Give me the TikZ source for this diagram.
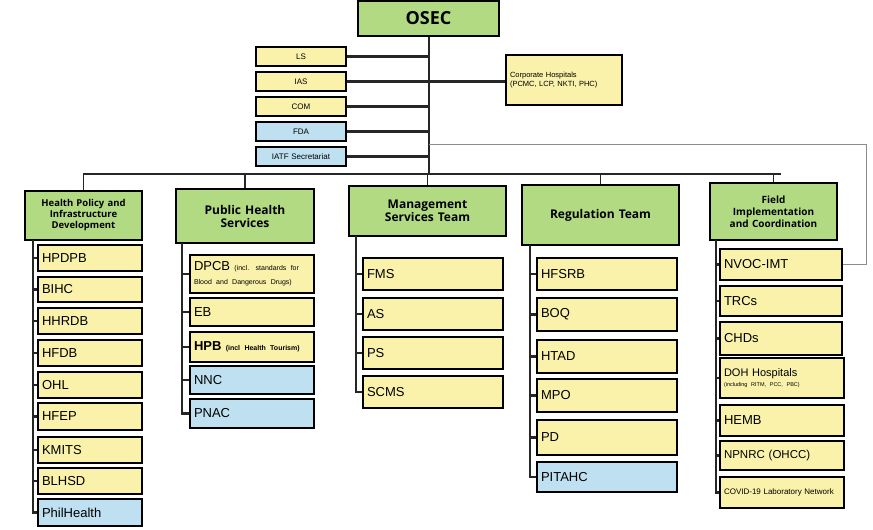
\documentclass[tikz,border=0pt]{standalone}
\usepackage{fontspec}
\setmainfont{Liberation Sans}
\newfontfamily\hdfont{Open Sans}
\definecolor{gfill}{RGB}{178,218,130}
\definecolor{yfill}{RGB}{250,242,170}
\definecolor{bfill}{RGB}{190,224,240}
\begin{document}
\begin{tikzpicture}[x=1pt,y=-1pt,
  box/.style={draw=black,line width=1.8pt,inner xsep=4pt,inner ysep=0pt,font=\fontsize{13}{14}\selectfont},
  yel/.style={box,fill=yfill,align=left},
  blu/.style={box,fill=bfill,align=left},
  grn/.style={box,fill=gfill,align=center,font=\hdfont\bfseries\fontsize{12}{13}\selectfont},
  sm/.style={box,align=center,font=\fontsize{8}{9.5}\selectfont},
  ln/.style={line width=2.2pt,black!85},
  gl/.style={line width=1pt,black!45}]
\useasboundingbox (0,0) rectangle (873,530);
\newcommand\bx[7]{\node[#6,minimum width={(#4-#2)*1pt},minimum height={(#5-#3)*1pt},text width={(#4-#2)*1pt-8pt}] (#1) at ({(#2+#4)/2},{(#3+#5)/2}) {#7};}
% top
\bx{osec}{358}{1}{499}{36}{grn,font=\hdfont\bfseries\fontsize{18}{20}\selectfont}{OSEC}
\bx{ls}{256}{47}{346}{66}{sm,fill=yfill}{LS}
\bx{ias}{256}{72}{346}{91}{sm,fill=yfill}{IAS}
\bx{com}{256}{97}{346}{116}{sm,fill=yfill}{COM}
\bx{fda}{256}{122}{346}{141}{sm,fill=bfill}{FDA}
\bx{iatf}{256}{147}{346}{166}{sm,fill=bfill}{IATF Secretariat}
\bx{corp}{506}{55}{622}{105}{sm,fill=yfill,align=left,font=\fontsize{7.5}{9}\selectfont}{Corporate Hospitals\\(PCMC, LCP, NKTI, PHC)}
\coordinate (t0) at (429,36);
\coordinate (tb) at (429,174);
\coordinate (tg) at (429,144);
\coordinate (gr) at (866,144);
\draw[ln] (osec.south -| t0) -- (tb);
\foreach \n in {ls,ias,com,fda,iatf} \draw[ln] (\n.east) -- (t0 |- \n.east);
\draw[ln] (t0 |- ias.east) -- (corp.west |- ias.east);
% headers
\bx{h1}{25}{191}{142}{240}{grn,font=\hdfont\bfseries\fontsize{9.5}{11}\selectfont}{Health Policy and Infrastructure Development}
\bx{h2}{176}{189}{314}{243}{grn}{Public Health\\Services}
\bx{h3}{349}{186}{506}{236}{grn}{Management\\Services Team}
\bx{h4}{522}{185}{679}{245}{grn}{Regulation Team}
\bx{h5}{710}{183}{837}{240}{grn,font=\hdfont\bfseries\fontsize{10}{12}\selectfont}{Field\\Implementation\\and Coordination}
\coordinate (bl) at (83,174);
\coordinate (br) at (781,174);
\draw[ln,line width=1.6pt] (bl) -- (br);
\foreach \n in {h1,h2,h3,h4,h5} \draw[ln,line width=1.3pt] (\n.north) -- (\n.north |- bl);
% col 1
\bx{a1}{38}{245}{142}{271}{yel}{HPDPB}
\bx{a2}{38}{277}{142}{302}{yel}{BIHC}
\bx{a3}{38}{308}{142}{334}{yel}{HHRDB}
\bx{a4}{38}{340}{142}{366}{yel}{HFDB}
\bx{a5}{38}{372}{142}{398}{yel}{OHL}
\bx{a6}{38}{403}{142}{430}{yel}{HFEP}
\bx{a7}{38}{437}{142}{463}{yel}{KMITS}
\bx{a8}{38}{468}{142}{494}{yel}{BLHSD}
\bx{a9}{38}{499}{142}{526}{blu}{PhilHealth}
\coordinate (s1) at (33,240);
\draw[ln] (s1) |- (a9.west);
\foreach \n in {a1,a2,a3,a4,a5,a6,a7,a8} \draw[ln] (s1 |- \n.west) -- (\n.west);
% col 2
\bx{b1}{190}{255}{314}{293}{yel}{\raggedright DPCB {\fontsize{7}{9}\selectfont (incl. standards for Blood and Dangerous Drugs)}}
\bx{b2}{190}{298}{314}{326}{yel}{EB}
\bx{b3}{190}{332}{314}{362}{yel}{\raggedright\textbf{HPB} {\fontsize{7}{9}\selectfont\bfseries (incl Health Tourism)}}
\bx{b4}{190}{366}{314}{394}{blu}{NNC}
\bx{b5}{190}{399}{314}{428}{blu}{PNAC}
\coordinate (s2) at (182,243);
\draw[ln] (s2) |- (b5.west);
\foreach \n in {b1,b2,b3,b4} \draw[ln] (s2 |- \n.west) -- (\n.west);
% col 3
\bx{c1}{363}{258}{503}{290}{yel}{FMS}
\bx{c2}{363}{298}{503}{330}{yel}{AS}
\bx{c3}{363}{337}{503}{369}{yel}{PS}
\bx{c4}{363}{376}{503}{408}{yel}{SCMS}
\coordinate (s3) at (356,236);
\draw[ln] (s3) |- (c4.west);
\foreach \n in {c1,c2,c3} \draw[ln] (s3 |- \n.west) -- (\n.west);
% col 4
\bx{d1}{537}{258}{677}{290}{yel}{HFSRB}
\bx{d2}{537}{298}{677}{331}{yel}{BOQ}
\bx{d3}{537}{340}{677}{373}{yel}{HTAD}
\bx{d4}{537}{379}{677}{412}{yel}{MPO}
\bx{d5}{537}{420}{677}{455}{yel}{PD}
\bx{d6}{537}{462}{677}{492}{blu}{PITAHC}
\coordinate (s4) at (530,245);
\draw[ln] (s4) |- (d6.west);
\foreach \n in {d1,d2,d3,d4,d5} \draw[ln] (s4 |- \n.west) -- (\n.west);
% col 5
\bx{e1}{720}{249}{842}{280}{yel}{NVOC-IMT}
\bx{e2}{720}{286}{842}{316}{yel}{TRCs}
\bx{e3}{720}{322}{842}{355}{yel}{CHDs}
\bx{e4}{720}{358}{844}{398}{yel,font=\fontsize{11}{12}\selectfont}{DOH Hospitals\\[-2pt]{\fontsize{5.5}{6}\selectfont (including RITM, PCC, PBC)}}
\bx{e5}{720}{405}{844}{436}{yel}{HEMB}
\bx{e6}{720}{441}{844}{470}{yel,font=\fontsize{11.5}{12}\selectfont}{NPNRC (OHCC)}
\bx{e7}{720}{477}{844}{508}{yel,font=\fontsize{8}{9.5}\selectfont}{COVID-19 Laboratory Network}
\coordinate (s5) at (716,240);
\draw[ln] (s5) |- (e7.west);
\foreach \n in {e1,e2,e3,e4,e5,e6} \draw[ln] (s5 |- \n.west) -- (\n.west);
% grey link
\draw[gl] (tg) -- (gr) |- (e1.east);
\end{tikzpicture}
\end{document}
